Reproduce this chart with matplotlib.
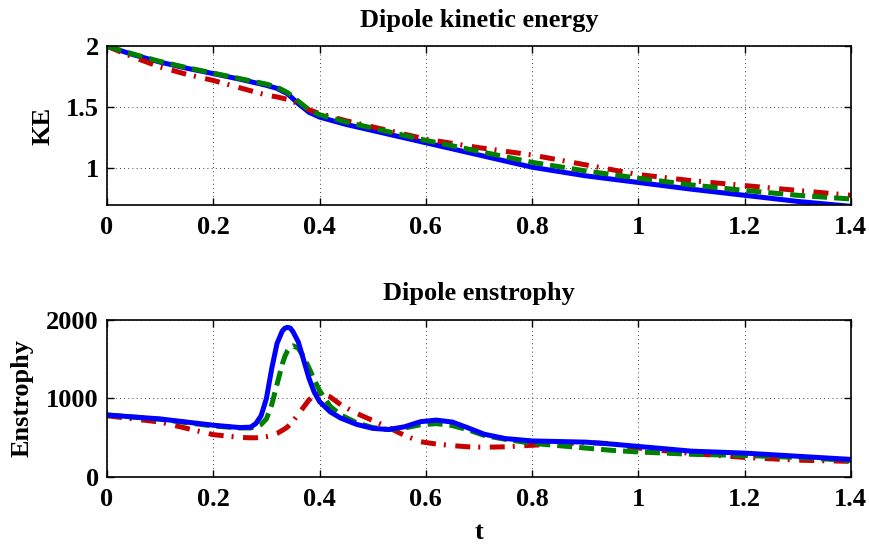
import matplotlib
matplotlib.use("Agg")
import matplotlib.pyplot as plt
from matplotlib.ticker import FuncFormatter

plt.rcParams["font.family"] = ["Liberation Serif", "DejaVu Serif"]
plt.rcParams["font.weight"] = "bold"

# kinetic energy of the dipole for the three runs
t_ke = [0, 0.05, 0.1, 0.15, 0.2, 0.25, 0.3, 0.32, 0.34, 0.36, 0.38, 0.4,
        0.45, 0.5, 0.55, 0.6, 0.7, 0.8, 0.9, 1.0, 1.1, 1.2, 1.3, 1.4]
ke_blue = [2.0, 1.93, 1.87, 1.82, 1.776, 1.73, 1.68, 1.655, 1.61, 1.53, 1.46, 1.42,
           1.36, 1.31, 1.26, 1.21, 1.11, 1.01, 0.94, 0.885, 0.83, 0.78, 0.73, 0.69]
ke_green = [2.0, 1.935, 1.875, 1.825, 1.78, 1.735, 1.69, 1.665, 1.62, 1.55, 1.48, 1.44,
            1.38, 1.33, 1.28, 1.23, 1.14, 1.05, 0.98, 0.92, 0.865, 0.82, 0.78, 0.75]
ke_red = [2.0, 1.91, 1.83, 1.77, 1.72, 1.66, 1.60, 1.585, 1.565, 1.53, 1.48, 1.45,
          1.39, 1.34, 1.29, 1.24, 1.17, 1.11, 1.03, 0.95, 0.90, 0.86, 0.82, 0.78]

# enstrophy of the dipole
t_en = [0, 0.1, 0.2, 0.25, 0.27, 0.28, 0.29, 0.30, 0.31, 0.32, 0.33, 0.335, 0.34,
        0.345, 0.35, 0.36, 0.37, 0.38, 0.39, 0.40, 0.42, 0.44, 0.47, 0.50, 0.53,
        0.56, 0.59, 0.62, 0.65, 0.68, 0.71, 0.75, 0.8, 0.9, 0.95, 1.0, 1.1, 1.2,
        1.3, 1.4]
en_blue = [790, 740, 660, 630, 635, 680, 780, 1000, 1380, 1700, 1860, 1895, 1905,
           1895, 1850, 1720, 1490, 1260, 1080, 960, 830, 750, 670, 620, 605,
           640, 705, 725, 700, 625, 545, 490, 460, 445, 420, 390, 330, 305,
           265, 225]
en_green = [790, 735, 650, 625, 625, 640, 670, 740, 920, 1180, 1440, 1540, 1610,
            1655, 1670, 1640, 1530, 1390, 1240, 1100, 900, 790, 690, 630, 605,
            625, 665, 680, 655, 600, 530, 480, 430, 370, 340, 320, 290, 275,
            250, 212]
en_red = [780, 700, 540, 505, 500, 500, 505, 515, 530, 555, 595, 615, 640,
          675, 710, 800, 890, 980, 1040, 1065, 1020, 920, 810, 720, 630,
          530, 450, 420, 400, 385, 380, 385, 405, 440, 425, 370, 300, 250,
          215, 200]

blue = (0, 0, 1)
green = (0, 0.5, 0)
red = (0.78, 0, 0)
lw = 3.6
dash_g = (3.0, 1.4)
dash_r = (3.0, 1.6, 0.4, 1.9)

fig = plt.figure(figsize=(8.7, 5.44), dpi=100)
ax1 = fig.add_axes([0.123, 0.623, 0.855, 0.292])
ax2 = fig.add_axes([0.123, 0.123, 0.855, 0.289])

fmt = FuncFormatter(lambda v, p: ("%g" % round(v, 6)))

ax1.plot(t_ke, ke_blue, color=blue, lw=lw)
ax1.plot(t_ke, ke_red, color=red, lw=lw, dashes=dash_r)
ax1.plot(t_ke, ke_green, color=green, lw=lw, dashes=dash_g)
ax1.set_ylim(0.7, 2)
ax1.set_yticks([1, 1.5, 2])
ax1.set_ylabel("KE", fontsize=19, fontweight="bold", labelpad=8)
ax1.set_title("Dipole kinetic energy", fontsize=19, fontweight="bold", pad=14)

ax2.plot(t_en, en_red, color=red, lw=lw, dashes=dash_r)
ax2.plot(t_en, en_green, color=green, lw=lw, dashes=dash_g)
ax2.plot(t_en, en_blue, color=blue, lw=lw)
ax2.set_ylim(0, 2000)
ax2.set_yticks([0, 1000, 2000])
ax2.set_ylabel("Enstrophy", fontsize=19, fontweight="bold", labelpad=9)
ax2.set_xlabel("t", fontsize=19, fontweight="bold", labelpad=7)
ax2.set_title("Dipole enstrophy", fontsize=19, fontweight="bold", pad=14)

for ax in (ax1, ax2):
    ax.set_xlim(0, 1.4)
    ax.set_xticks([0, 0.2, 0.4, 0.6, 0.8, 1.0, 1.2, 1.4])
    ax.xaxis.set_major_formatter(fmt)
    ax.yaxis.set_major_formatter(fmt)
    ax.grid(True, color="k", linestyle=(0, (1, 4)), linewidth=0.6)
    ax.tick_params(direction="in", top=True, right=True, length=5, width=1,
                   labelsize=19)
    ax.tick_params(axis="x", pad=8)
    ax.tick_params(axis="y", pad=6)
    for lab in ax.get_xticklabels() + ax.get_yticklabels():
        lab.set_fontweight("bold")
    for s in ax.spines.values():
        s.set_linewidth(1.2)

fig.savefig("out.png", dpi=100)
